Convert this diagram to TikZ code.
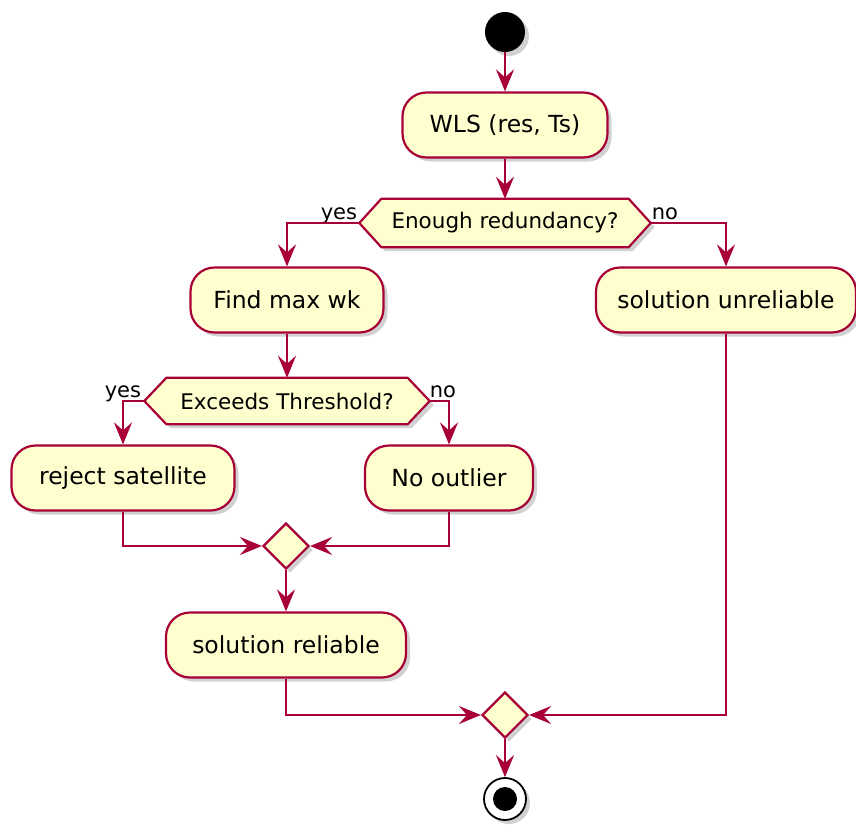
\documentclass[tikz,border=0pt]{standalone}
\usepackage{fontspec}
\setmainfont{DejaVu Sans}
\usetikzlibrary{arrows.meta,calc,shapes.geometric,shadows}
\definecolor{umlfill}{HTML}{FEFECE}
\definecolor{umlline}{HTML}{A80036}

\begin{document}
\begin{tikzpicture}[x=1pt,y=-1pt,
  shade/.style={drop shadow={shadow xshift=4pt,shadow yshift=-4pt,opacity=0.3,fill=black!60}},
  act/.style={draw=umlline,fill=umlfill,line width=2.2pt,rounded corners=24pt,
    minimum height=65pt,inner sep=0pt,font=\fontsize{23.5}{28}\selectfont,shade},
  dec/.style={inner sep=0pt,font=\fontsize{21.5}{26}\selectfont},
  hexa/.style={draw=umlline,fill=umlfill,line width=2.2pt,shade},
  merge/.style={diamond,draw=umlline,fill=umlfill,line width=2.2pt,
    minimum width=46pt,minimum height=46pt,inner sep=0pt,aspect=1,shade},
  flow/.style={draw=umlline,line width=2.2pt,
    -{Stealth[length=22pt,width=18pt,inset=8pt]}},
  lbl/.style={inner sep=0pt,font=\fontsize{21}{25}\selectfont}]

% page frame
\useasboundingbox (0,0) rectangle (856,825);

% start and end markers
\node[circle,fill=black,minimum size=40pt,inner sep=0pt,shade] (start) at (505,32) {};
\node[circle,draw=black,fill=white,line width=1.8pt,minimum size=42pt,inner sep=0pt,shade] (stop) at (505,799) {};
\node[circle,fill=black,minimum size=24pt,inner sep=0pt] (stopdot) at (stop) {};

% activities
\node[act,minimum width=205pt] (wls) at (505,125) {WLS (res, Ts)};
\node[act,minimum width=193pt] (find) at (287,300) {Find max wk};
\node[act,minimum width=260pt] (unrel) at (726,300) {solution unreliable};
\node[act,minimum width=223pt] (rej) at (123,478) {reject satellite};
\node[act,minimum width=168pt] (noout) at (449,478) {No outlier};
\node[act,minimum width=240pt] (rel) at (286,645) {solution reliable};

% decisions: hexagons drawn around plain text nodes
\node[dec,minimum width=291pt,minimum height=48pt] (q1) at (505,223) {};
\draw[hexa] (q1.west) -- ($(q1.north west)+(22,0)$) -- ($(q1.north east)+(-22,0)$)
  -- (q1.east) -- ($(q1.south east)+(-22,0)$) -- ($(q1.south west)+(22,0)$) -- cycle;
\node[dec] (q1t) at (q1) {Enough redundancy?};

\node[dec,minimum width=285pt,minimum height=46pt] (q2) at (287,401) {};
\draw[hexa] (q2.west) -- ($(q2.north west)+(22,0)$) -- ($(q2.north east)+(-22,0)$)
  -- (q2.east) -- ($(q2.south east)+(-22,0)$) -- ($(q2.south west)+(22,0)$) -- cycle;
\node[dec] (q2t) at (q2) {Exceeds Threshold?};

% merge points
\node[merge] (m1) at (286,546) {};
\node[merge] (m2) at (505,715) {};

% branch labels
\node[lbl,anchor=base east] (y1) at ($(q1.west)+(-2,-4)$) {yes};
\node[lbl,anchor=base west] (n1) at ($(q1.east)+(1,-4)$) {no};
\node[lbl,anchor=base east] (y2) at ($(q2.west)+(-3,-4)$) {yes};
\node[lbl,anchor=base west] (n2) at ($(q2.east)+(0,-4)$) {no};

% connectors
\draw[flow] (start) -- (wls);
\draw[flow] (wls) -- (q1);
\draw[flow] (q1.west) -| (find.north);
\draw[flow] (q1.east) -| (unrel.north);
\draw[flow] (find) -- (q2);
\draw[flow] (q2.west) -| (rej.north);
\draw[flow] (q2.east) -| (noout.north);
\draw[flow] (rej.south) |- (m1.west);
\draw[flow] (noout.south) |- (m1.east);
\draw[flow] (m1) -- (rel);
\draw[flow] (rel.south) |- (m2.west);
\draw[flow] (unrel.south) |- (m2.east);
\draw[flow] (m2) -- (stop);
\end{tikzpicture}
\end{document}
